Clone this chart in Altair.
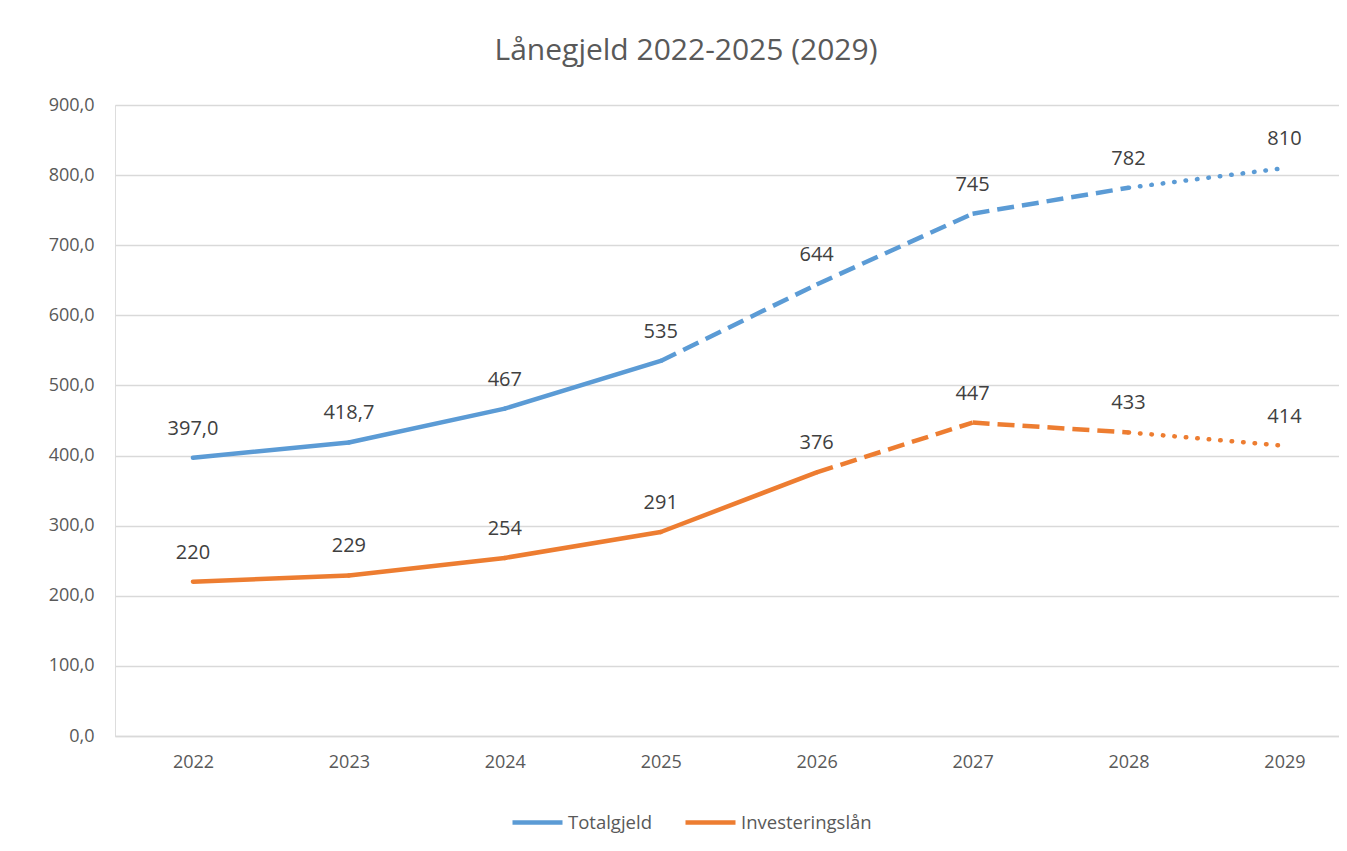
import altair as alt
import pandas as pd

# ---- data ----
years = [2022, 2023, 2024, 2025, 2026, 2027, 2028, 2029]
totalgjeld = [397.0, 418.7, 467, 535, 644, 745, 782, 810]
investeringslan = [220, 229, 254, 291, 376, 447, 433, 414]
totalgjeld_labels = ["397,0", "418,7", "467", "535", "644", "745", "782", "810"]
investeringslan_labels = ["220", "229", "254", "291", "376", "447", "433", "414"]
# line style of each segment (between year i and year i+1)
totalgjeld_style = ["solid", "solid", "solid", "dashed", "dashed", "dashed", "dotted"]
investeringslan_style = ["solid", "solid", "solid", "solid", "dashed", "dashed", "dotted"]

series_names = ["Totalgjeld", "Investeringslån"]
series_colors = ["#5B9BD5", "#ED7D31"]
y_ticks = [0, 100, 200, 300, 400, 500, 600, 700, 800, 900]

# ---- build tables ----
seg_rows = []
pt_rows = []
for name, vals, labs, styles in [
    ("Totalgjeld", totalgjeld, totalgjeld_labels, totalgjeld_style),
    ("Investeringslån", investeringslan, investeringslan_labels, investeringslan_style),
]:
    for i, y in enumerate(years):
        pt_rows.append({"serie": name, "year": y, "value": vals[i], "label": labs[i]})
    for i, st in enumerate(styles):
        for j in (i, i + 1):
            seg_rows.append({"serie": name, "seg": f"{name}-{i}", "style": st,
                             "year": years[j], "value": vals[j]})

seg_df = pd.DataFrame(seg_rows)
pt_df = pd.DataFrame(pt_rows)

FONT = "Open Sans"

x_enc = alt.X("year:Q",
              scale=alt.Scale(domain=[2021.5, 2029.35], nice=False, zero=False),
              axis=alt.Axis(values=years, format="d", grid=False, ticks=False,
                            domain=True, domainColor="#d9d9d9", domainWidth=1.3,
                            labelFont=FONT, labelFontSize=18, labelColor="#595959",
                            labelPadding=17, title=None))
y_enc = alt.Y("value:Q",
              scale=alt.Scale(domain=[0, 900], nice=False),
              axis=alt.Axis(values=y_ticks, grid=True, gridColor="#d9d9d9", gridWidth=1.3,
                            domain=False, ticks=False,
                            labelExpr="replace(format(datum.value, '.1f'), '.', ',')",
                            labelFont=FONT, labelFontSize=18, labelColor="#595959",
                            labelPadding=21, title=None))

color_legend = alt.Color("serie:N",
                         scale=alt.Scale(domain=series_names, range=series_colors),
                         legend=alt.Legend(title=None, orient="none", legendX=395, legendY=690,
                                           direction="horizontal", symbolType="stroke",
                                           symbolSize=2500, symbolStrokeWidth=4.5,
                                           labelFont=FONT, labelFontSize=18.5,
                                           labelColor="#595959", labelOffset=3,
                                           columnPadding=24))
color_nolegend = alt.Color("serie:N",
                           scale=alt.Scale(domain=series_names, range=series_colors),
                           legend=None)

base = alt.Chart(seg_df)

solid = base.transform_filter(alt.datum.style == "solid").mark_line(
    strokeWidth=4.5, strokeCap="round", strokeJoin="round").encode(
    x=x_enc, y=y_enc, color=color_legend, detail="seg:N")

dashed = base.transform_filter(alt.datum.style == "dashed").mark_line(
    strokeWidth=4.5, strokeCap="butt", strokeDash=[17, 8]).encode(
    x=x_enc, y=y_enc, color=color_nolegend, detail="seg:N")

dotted = base.transform_filter(alt.datum.style == "dotted").mark_line(
    strokeWidth=4.5, strokeCap="round", strokeDash=[0.5, 11]).encode(
    x=x_enc, y=y_enc, color=color_nolegend, detail="seg:N")

labels = alt.Chart(pt_df).mark_text(
    dy=-29, font=FONT, fontSize=20, color="#404040", baseline="middle").encode(
    x=x_enc, y=y_enc, text="label:N")

chart = alt.layer(solid, dashed, dotted, labels).properties(
    width=1224, height=631,
    title=alt.TitleParams("Lånegjeld 2022-2025 (2029)", font=FONT, fontSize=30,
                          fontWeight="normal", color="#595959", anchor="middle",
                          dx=-41, offset=30),
    autosize=alt.AutoSizeParams(type="none"),
    padding={"left": 107, "top": 97, "right": 0, "bottom": 110},
).configure_view(stroke=None).configure(background="white")

chart.save("out.html", embed_options={"renderer": "svg", "actions": False})
